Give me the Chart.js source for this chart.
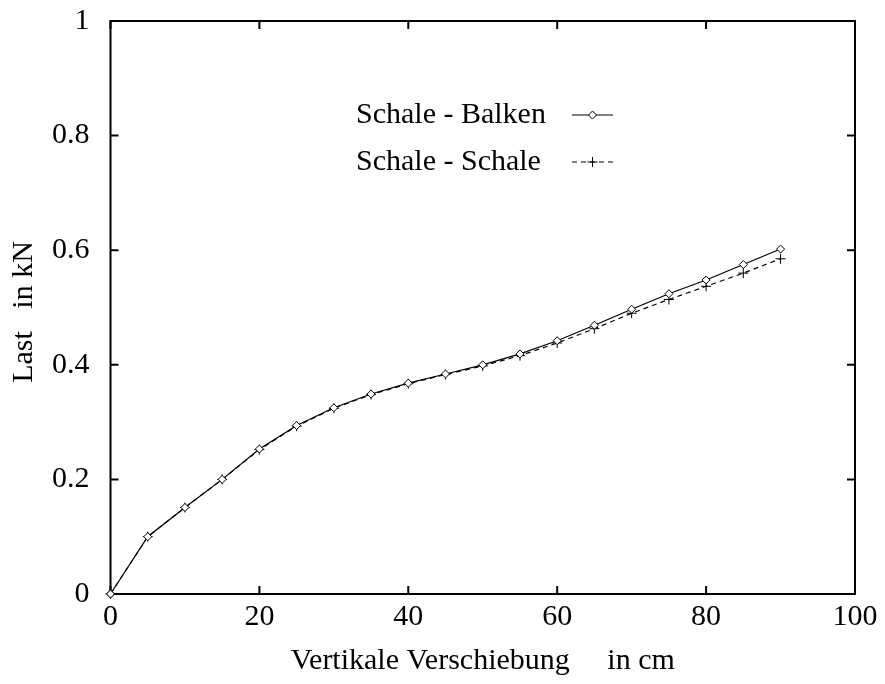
<!DOCTYPE html>
<html>
<head>
<meta charset="utf-8">
<script src="https://cdn.jsdelivr.net/npm/chart.js@4/dist/chart.umd.min.js"></script>
<style>
  body { margin: 0; background: #fff; }
  canvas { display: block; }
</style>
</head>
<body>
<canvas id="lastChart" width="885" height="684"></canvas>
<script>
// Daten
const verschiebung = [0, 5, 10, 15, 20, 25, 30, 35, 40, 45, 50, 55, 60, 65, 70, 75, 80, 85, 90];
const schaleBalken = [0, 0.100, 0.151, 0.200, 0.253, 0.294, 0.325, 0.349, 0.368, 0.384, 0.400, 0.419, 0.442, 0.469, 0.497, 0.524, 0.548, 0.575, 0.602];
const schaleSchale = [0, 0.100, 0.151, 0.200, 0.252, 0.293, 0.324, 0.348, 0.367, 0.383, 0.398, 0.416, 0.438, 0.463, 0.490, 0.514, 0.537, 0.560, 0.585];
const xTicks = [0, 20, 40, 60, 80, 100];
const yTicks = [0, 0.2, 0.4, 0.6, 0.8, 1];
const serienNamen = ['Schale - Balken', 'Schale - Schale'];
const xTitel = 'Vertikale Verschiebung     in cm';
const yTitel = 'Last   in kN';

const FONT = '"Liberation Serif", "Times New Roman", serif';
const FONT_SIZE = 30;

// Rahmen mit Ticks nach innen (gnuplot-Stil), Legende und Achsentitel
const gnuplotLook = {
    id: 'gnuplotLook',
    afterDatasetsDraw(chart) {
        const { ctx, chartArea: a, scales } = chart;
        ctx.save();
        ctx.strokeStyle = '#000';
        ctx.lineWidth = 2;
        ctx.strokeRect(a.left, a.top, a.right - a.left, a.bottom - a.top);

        const tl = 8;
        ctx.beginPath();
        xTicks.forEach(v => {
            const px = scales.x.getPixelForValue(v);
            ctx.moveTo(px, a.bottom); ctx.lineTo(px, a.bottom - tl);
            ctx.moveTo(px, a.top); ctx.lineTo(px, a.top + tl);
        });
        yTicks.forEach(v => {
            const py = scales.y.getPixelForValue(v);
            ctx.moveTo(a.left, py); ctx.lineTo(a.left + tl, py);
            ctx.moveTo(a.right, py); ctx.lineTo(a.right - tl, py);
        });
        ctx.stroke();

        // Punkt im Ursprung liegt auf dem Rahmen -> nochmal obendrauf
        const m = chart.getDatasetMeta(0).data[0];
        ctx.fillStyle = '#fff';
        ctx.strokeStyle = '#000';
        ctx.lineWidth = 1;
        Chart.helpers.drawPoint(ctx, { pointStyle: 'rectRot', radius: 4, borderWidth: 1, rotation: 0 }, m.x, m.y);
        ctx.restore();
    },
    afterDraw(chart) {
        const { ctx, chartArea: a } = chart;
        ctx.save();
        ctx.font = FONT_SIZE + 'px ' + FONT;

        // Legende
        const legY = [115, 162];
        const stile = chart.data.datasets;
        ctx.textAlign = 'left';
        ctx.textBaseline = 'middle';
        serienNamen.forEach((name, i) => {
            ctx.fillStyle = '#000';
            ctx.fillText(name, 356, legY[i]);
            const ds = stile[i];
            ctx.strokeStyle = '#000';
            ctx.lineWidth = 1.2;
            ctx.setLineDash(ds.borderDash || []);
            ctx.beginPath();
            ctx.moveTo(572, legY[i]);
            ctx.lineTo(613, legY[i]);
            ctx.stroke();
            ctx.setLineDash([]);
            ctx.lineWidth = 1;
            ctx.fillStyle = '#fff';
            Chart.helpers.drawPoint(ctx, {
                pointStyle: ds.pointStyle,
                radius: ds.pointRadius,
                borderWidth: 1,
                rotation: 0
            }, 592.5, legY[i]);
        });

        // Achsentitel
        ctx.fillStyle = '#000';
        ctx.textAlign = 'center';
        ctx.fillText(xTitel, (a.left + a.right) / 2, 661);
        ctx.translate(24, 312);
        ctx.rotate(-Math.PI / 2);
        ctx.fillText(yTitel, 0, 0);
        ctx.restore();
    }
};

new Chart(document.getElementById('lastChart'), {
    type: 'line',
    data: {
        datasets: [
            {
                label: serienNamen[0],
                data: verschiebung.map((x, i) => ({ x: x, y: schaleBalken[i] })),
                borderColor: '#000',
                backgroundColor: '#fff',
                borderWidth: 1.2,
                pointStyle: 'rectRot',
                pointRadius: 4,
                pointBorderWidth: 1,
                clip: false,
                tension: 0
            },
            {
                label: serienNamen[1],
                data: verschiebung.map((x, i) => ({ x: x, y: schaleSchale[i] })),
                borderColor: '#000',
                backgroundColor: '#000',
                borderWidth: 1.2,
                borderDash: [5, 4],
                pointStyle: 'cross',
                pointRadius: 5,
                pointBorderWidth: 1,
                clip: false,
                tension: 0
            }
        ]
    },
    options: {
        responsive: false,
        animation: false,
        devicePixelRatio: 1,
        layout: { padding: { left: 0, top: 21, right: 30, bottom: 0 } },
        plugins: {
            legend: { display: false },
            tooltip: { enabled: false }
        },
        scales: {
            x: {
                type: 'linear',
                min: 0,
                max: 100,
                afterFit: s => { s.height = 90; s.paddingLeft = 0; s.paddingRight = 0; },
                afterBuildTicks: s => { s.ticks = xTicks.map(v => ({ value: v })); },
                grid: { display: false },
                border: { display: false },
                ticks: {
                    color: '#000',
                    font: { family: FONT, size: FONT_SIZE },
                    padding: -3,
                    maxRotation: 0,
                    callback: v => String(v)
                }
            },
            y: {
                type: 'linear',
                min: 0,
                max: 1,
                afterFit: s => { s.width = 110.5; s.paddingTop = 0; s.paddingBottom = 0; },
                afterBuildTicks: s => { s.ticks = yTicks.map(v => ({ value: v })); },
                grid: { display: false },
                border: { display: false },
                ticks: {
                    color: '#000',
                    font: { family: FONT, size: FONT_SIZE },
                    padding: 13,
                    callback: v => String(Math.round(v * 10) / 10)
                }
            }
        }
    },
    plugins: [gnuplotLook]
});
</script>
</body>
</html>
